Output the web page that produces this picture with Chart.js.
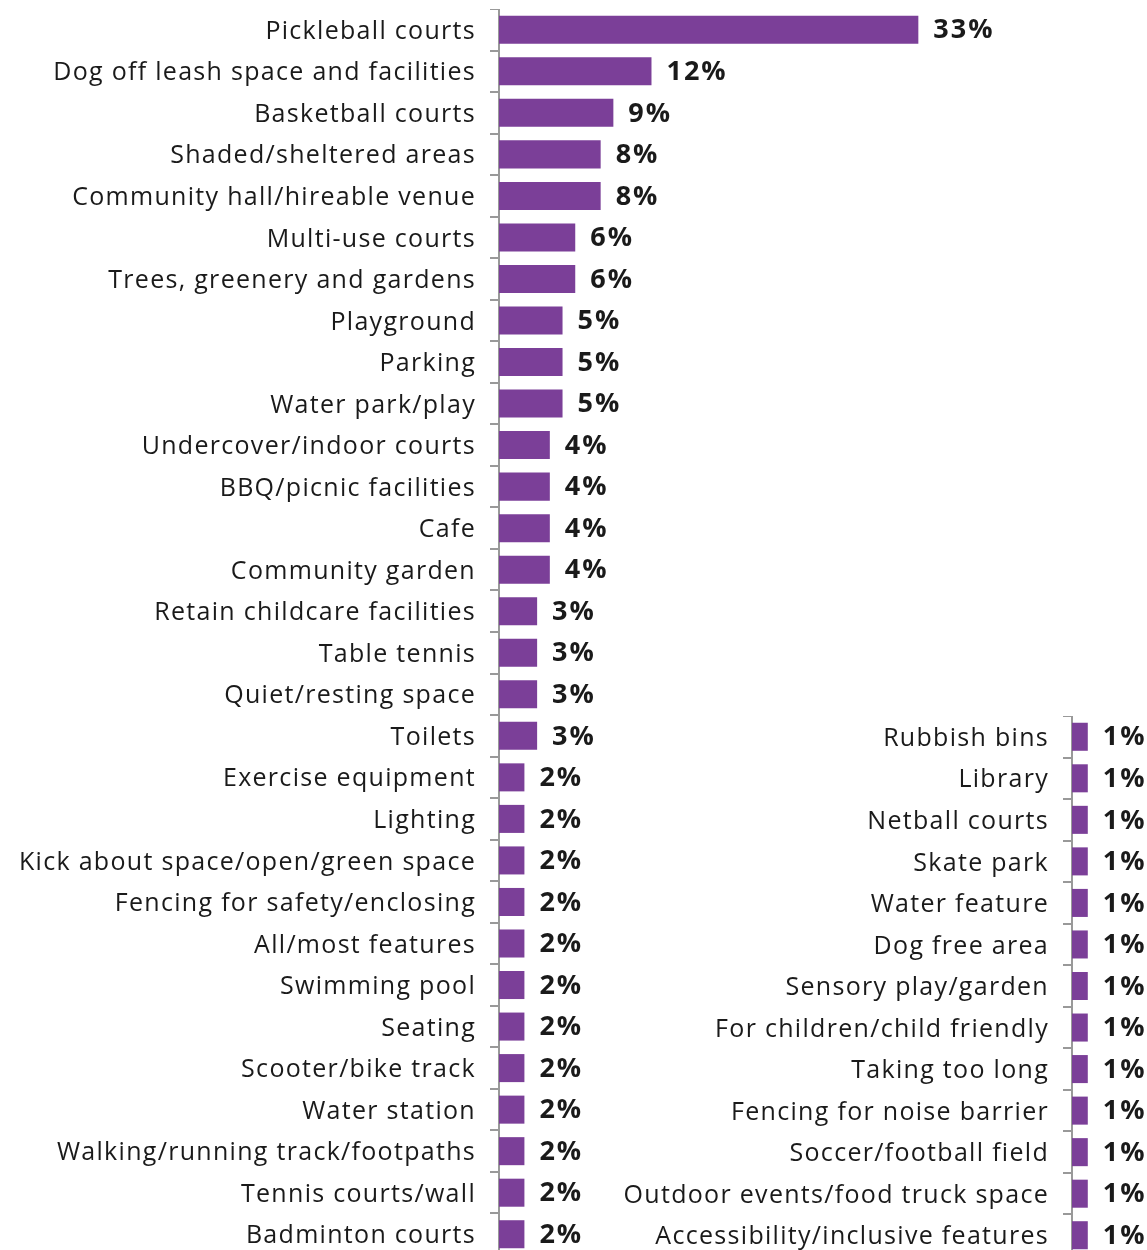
<!DOCTYPE html>
<html>
<head>
<meta charset="utf-8">
<script src="https://cdn.jsdelivr.net/npm/chart.js@4/dist/chart.umd.min.js"></script>
<style>
  body { margin: 0; background: #fff; }
  #wrap { position: relative; width: 1147px; height: 1250px; overflow: hidden; }
  .box { position: absolute; }
</style>
</head>
<body>
<div id="wrap">
  <div class="box" style="left:0;top:9px;width:1020px;height:1246px"><canvas id="leftChart"></canvas></div>
  <div class="box" style="left:600px;top:716px;width:547px;height:540px"><canvas id="rightChart"></canvas></div>
</div>
<script>
// Left column
const leftLabels = [
  "Pickleball courts", "Dog off leash space and facilities", "Basketball courts",
  "Shaded/sheltered areas", "Community hall/hireable venue", "Multi-use courts",
  "Trees, greenery and gardens", "Playground", "Parking", "Water park/play",
  "Undercover/indoor courts", "BBQ/picnic facilities", "Cafe", "Community garden",
  "Retain childcare facilities", "Table tennis", "Quiet/resting space", "Toilets",
  "Exercise equipment", "Lighting", "Kick about space/open/green space",
  "Fencing for safety/enclosing", "All/most features", "Swimming pool", "Seating",
  "Scooter/bike track", "Water station", "Walking/running track/footpaths",
  "Tennis courts/wall", "Badminton courts"
]
const leftValues = [33, 12, 9, 8, 8, 6, 6, 5, 5, 5, 4, 4, 4, 4, 3, 3, 3, 3,
  2, 2, 2, 2, 2, 2, 2, 2, 2, 2, 2, 2]

// Right column
const rightLabels = [
  "Rubbish bins", "Library", "Netball courts", "Skate park", "Water feature",
  "Dog free area", "Sensory play/garden", "For children/child friendly",
  "Taking too long", "Fencing for noise barrier", "Soccer/football field",
  "Outdoor events/food truck space", "Accessibility/inclusive features"
]
const rightValues = [1, 1, 1, 1, 1, 1, 1, 1, 1, 1, 1, 1, 1]

const barColor = "#7b3f98"
const textColor = "#1a1a1a"
const fontFamily = "'Open Sans', Lato, sans-serif"

// wider letter spacing so the labels get closer to the original typeface
const spacing = {
  id: "spacing",
  beforeDraw(chart) {
    chart.ctx.letterSpacing = "1.3px"
  }
}

// draws the "33%" labels after each bar
const valueLabels = {
  id: "valueLabels",
  afterDatasetsDraw(chart) {
    const ctx = chart.ctx
    const meta = chart.getDatasetMeta(0)
    const data = chart.data.datasets[0].data
    ctx.save()
    ctx.letterSpacing = "2px"
    ctx.font = "bold 27px " + fontFamily
    ctx.fillStyle = textColor
    ctx.textBaseline = "middle"
    ctx.textAlign = "left"
    meta.data.forEach((bar, i) => {
      ctx.fillText(data[i] + "%", bar.x + 15, bar.y + 1)
    })
    ctx.restore()
  }
}

function makeChart(id, labels, values, axisWidth, xMax) {
  return new Chart(document.getElementById(id), {
    type: "bar",
    data: {
      labels: labels,
      datasets: [{
        data: values,
        backgroundColor: barColor,
        categoryPercentage: 1,
        barPercentage: 0.675
      }]
    },
    options: {
      indexAxis: "y",
      responsive: true,
      maintainAspectRatio: false,
      animation: false,
      layout: { padding: 0 },
      plugins: { legend: { display: false }, tooltip: { enabled: false } },
      scales: {
        x: { display: false, min: 0, max: xMax },
        y: {
          afterFit: (scale) => {
            scale.width = axisWidth
            scale.paddingTop = 0
            scale.paddingBottom = 0
          },
          border: { display: true, color: "#999", width: 2 },
          grid: {
            offset: true,
            drawOnChartArea: false,
            drawTicks: true,
            tickLength: 9,
            color: "#999",
            lineWidth: 2
          },
          ticks: {
            color: textColor,
            padding: 14,
            labelOffset: 2,
            font: { family: fontFamily, size: 25 }
          }
        }
      }
    },
    plugins: [spacing, valueLabels]
  })
}

makeChart("leftChart", leftLabels, leftValues, 499, 41)
makeChart("rightChart", rightLabels, rightValues, 472, 4.75)
</script>
</body>
</html>
